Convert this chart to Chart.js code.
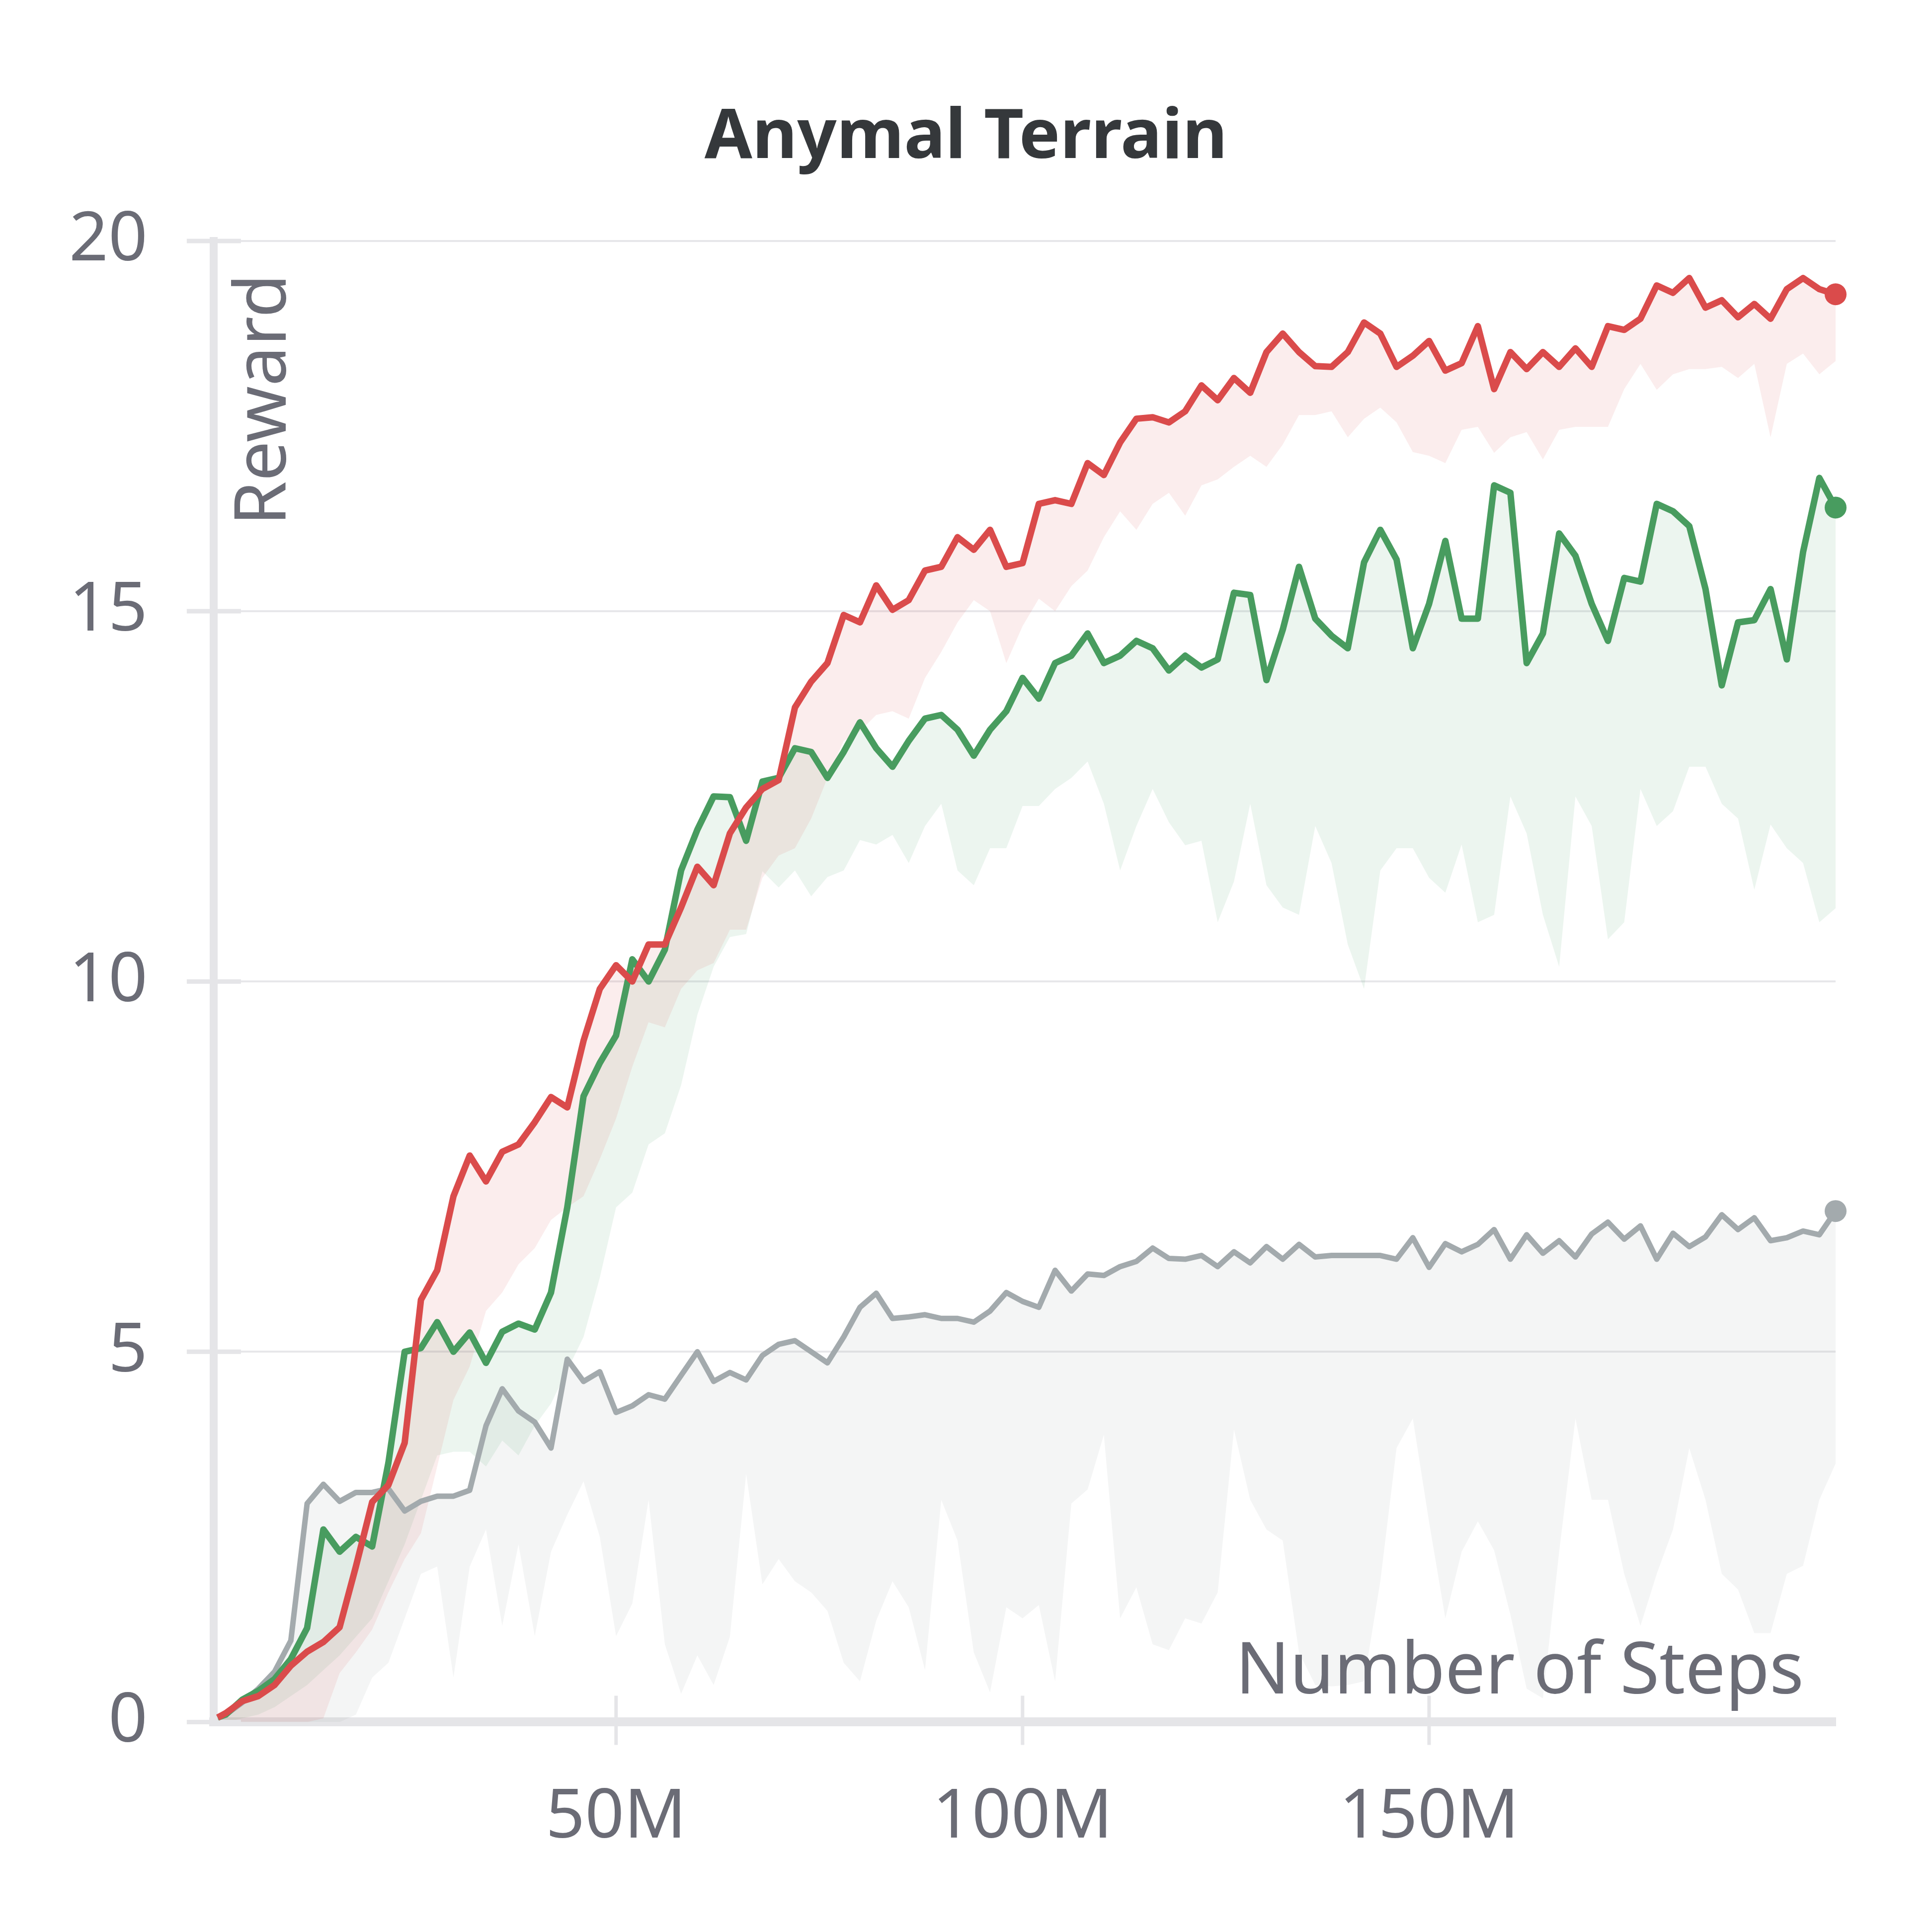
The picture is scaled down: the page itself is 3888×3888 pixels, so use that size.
<!DOCTYPE html>
<html>
<head>
<meta charset="utf-8">
<title>Anymal Terrain</title>
<script src="https://cdn.jsdelivr.net/npm/chart.js@4.4.1/dist/chart.umd.min.js"></script>
<style>
  html, body { margin: 0; padding: 0; background: #ffffff; }
  #chart { display: block; }
</style>
</head>
<body>
<canvas id="chart" width="3888" height="3888"></canvas>
<script>
// Number of steps, in millions
const steps = [1,
  2, 4, 6, 8, 10, 12, 14, 16, 18, 20,
  22, 24, 26, 28, 30, 32, 34, 36, 38, 40,
  42, 44, 46, 48, 50, 52, 54, 56, 58, 60,
  62, 64, 66, 68, 70, 72, 74, 76, 78, 80,
  82, 84, 86, 88, 90, 92, 94, 96, 98, 100,
  102, 104, 106, 108, 110, 112, 114, 116, 118, 120,
  122, 124, 126, 128, 130, 132, 134, 136, 138, 140,
  142, 144, 146, 148, 150, 152, 154, 156, 158, 160,
  162, 164, 166, 168, 170, 172, 174, 176, 178, 180,
  182, 184, 186, 188, 190, 192, 194, 196, 198, 200];

// red run: reward and lower edge of its band
const redRun = [0.06,
  0.12, 0.28, 0.35, 0.5, 0.76, 0.95, 1.08, 1.28, 2.1, 2.97,
  3.2, 3.77, 5.7, 6.1, 7.1, 7.65, 7.3, 7.7, 7.8, 8.1,
  8.44, 8.3, 9.2, 9.9, 10.22, 10.0, 10.5, 10.5, 11.0, 11.55,
  11.3, 12.0, 12.35, 12.6, 12.72, 13.7, 14.05, 14.3, 14.95, 14.85,
  15.35, 15.02, 15.15, 15.55, 15.6, 16.0, 15.83, 16.1, 15.6, 15.65,
  16.45, 16.5, 16.45, 17.0, 16.84, 17.28, 17.6, 17.62, 17.55, 17.7,
  18.05, 17.85, 18.15, 17.95, 18.5, 18.75, 18.5, 18.31, 18.3, 18.5,
  18.9, 18.75, 18.3, 18.45, 18.65, 18.25, 18.35, 18.85, 18.0, 18.5,
  18.27, 18.5, 18.3, 18.55, 18.3, 18.85, 18.8, 18.95, 19.4, 19.3,
  19.5, 19.1, 19.2, 18.97, 19.15, 18.95, 19.35, 19.5, 19.35, 19.28];
const redRunMin = [0,
  0, 0, 0, 0, 0, 0, 0.05, 0.66, 0.94, 1.25,
  1.75, 2.2, 2.55, 3.45, 4.35, 4.8, 5.55, 5.8, 6.18, 6.4,
  6.78, 6.95, 7.1, 7.6, 8.15, 8.85, 9.45, 9.38, 9.9, 10.15,
  10.25, 10.7, 10.7, 11.4, 11.7, 11.8, 12.2, 12.75, 13.25, 13.38,
  13.6, 13.65, 13.55, 14.1, 14.45, 14.85, 15.15, 15.0, 14.3, 14.8,
  15.17, 15.0, 15.34, 15.55, 16.0, 16.35, 16.1, 16.45, 16.6, 16.29,
  16.7, 16.78, 16.95, 17.1, 16.95, 17.25, 17.65, 17.65, 17.7, 17.35,
  17.6, 17.75, 17.55, 17.15, 17.1, 17.0, 17.45, 17.49, 17.14, 17.35,
  17.42, 17.05, 17.45, 17.49, 17.49, 17.49, 18.0, 18.34, 17.99, 18.2,
  18.27, 18.27, 18.3, 18.15, 18.34, 17.35, 18.34, 18.48, 18.2, 18.38];

// green run
const greenRun = [0.06,
  0.1, 0.3, 0.42, 0.58, 0.85, 1.27, 2.6, 2.3, 2.5, 2.37,
  3.5, 5.0, 5.05, 5.4, 5.0, 5.26, 4.85, 5.27, 5.38, 5.3,
  5.8, 6.95, 8.45, 8.9, 9.27, 10.3, 10.0, 10.43, 11.5, 12.05,
  12.5, 12.49, 11.9, 12.7, 12.75, 13.15, 13.1, 12.75, 13.1, 13.5,
  13.15, 12.9, 13.25, 13.55, 13.6, 13.4, 13.05, 13.4, 13.65, 14.1,
  13.82, 14.3, 14.4, 14.7, 14.3, 14.4, 14.6, 14.5, 14.2, 14.4,
  14.24, 14.35, 15.25, 15.22, 14.07, 14.75, 15.6, 14.9, 14.67, 14.5,
  15.66, 16.1, 15.7, 14.5, 15.1, 15.95, 14.9, 14.9, 16.7, 16.6,
  14.3, 14.7, 16.05, 15.75, 15.1, 14.6, 15.45, 15.4, 16.45, 16.35,
  16.15, 15.3, 14.0, 14.85, 14.88, 15.3, 14.35, 15.8, 16.8, 16.4];
const greenRunMin = [0,
  0, 0.05, 0.1, 0.2, 0.35, 0.5, 0.7, 0.9, 1.15, 1.4,
  1.9, 2.4, 3.0, 3.6, 3.65, 3.65, 3.45, 3.8, 3.6, 4.0,
  4.3, 4.75, 5.2, 6.0, 6.95, 7.15, 7.8, 7.95, 8.6, 9.55,
  10.2, 10.6, 10.64, 11.49, 11.27, 11.5, 11.15, 11.41, 11.5, 11.91,
  11.85, 11.98, 11.6, 12.1, 12.4, 11.5, 11.3, 11.8, 11.8, 12.37,
  12.37, 12.6, 12.75, 12.97, 12.4, 11.5, 12.1, 12.6, 12.15, 11.84,
  11.9, 10.8, 11.35, 12.4, 11.3, 11.0, 10.9, 12.1, 11.6, 10.5,
  9.9, 11.5, 11.8, 11.8, 11.4, 11.2, 11.85, 10.8, 10.9, 12.5,
  12.0, 10.9, 10.2, 12.5, 12.1, 10.57, 10.8, 12.6, 12.1, 12.3,
  12.9, 12.9, 12.4, 12.2, 11.24, 12.12, 11.8, 11.6, 10.8, 10.99];

// gray run
const grayRun = [0.06,
  0.1, 0.26, 0.45, 0.68, 1.1, 2.95, 3.21, 2.98, 3.1, 3.1,
  3.15, 2.85, 2.98, 3.05, 3.05, 3.13, 4.0, 4.5, 4.2, 4.05,
  3.7, 4.9, 4.6, 4.73, 4.18, 4.27, 4.42, 4.36, 4.68, 5.0,
  4.6, 4.72, 4.62, 4.95, 5.1, 5.15, 5.0, 4.85, 5.2, 5.6,
  5.79, 5.45, 5.47, 5.5, 5.45, 5.45, 5.4, 5.55, 5.8, 5.68,
  5.6, 6.1, 5.82, 6.05, 6.03, 6.15, 6.22, 6.4, 6.26, 6.25,
  6.3, 6.15, 6.35, 6.2, 6.42, 6.25, 6.45, 6.28, 6.3, 6.3,
  6.3, 6.3, 6.25, 6.54, 6.14, 6.46, 6.35, 6.45, 6.65, 6.25,
  6.58, 6.33, 6.5, 6.28, 6.59, 6.75, 6.52, 6.7, 6.25, 6.6,
  6.42, 6.55, 6.85, 6.65, 6.81, 6.5, 6.54, 6.63, 6.58, 6.9];
const grayRunMin = [0,
  0, 0, 0, 0, 0, 0, 0, 0, 0.1, 0.6,
  0.8, 1.4, 2.0, 2.1, 0.6, 2.1, 2.6, 1.3, 2.4, 1.16,
  2.3, 2.8, 3.25, 2.5, 1.16, 1.6, 3.0, 1.05, 0.38, 0.9,
  0.5, 1.15, 3.35, 1.86, 2.2, 1.9, 1.75, 1.5, 0.8, 0.55,
  1.37, 1.9, 1.55, 0.7, 3.0, 2.45, 0.94, 0.4, 1.55, 1.4,
  1.58, 0.55, 2.95, 3.14, 3.88, 1.4, 1.82, 1.05, 0.97, 1.4,
  1.33, 1.75, 3.95, 3.0, 2.6, 2.45, 0.94, 0.5, 0.48, 0.5,
  0.55, 1.9, 3.7, 4.1, 2.7, 1.4, 2.3, 2.71, 2.32, 1.45,
  0.45, 0.32, 2.3, 4.1, 3.0, 3.0, 2.0, 1.3, 2.0, 2.6,
  3.7, 3.0, 2.0, 1.79, 1.2, 1.2, 2.0, 2.11, 3.0, 3.49];

const xTicks = [50, 100, 150];
const yTicks = [0, 5, 10, 15, 20];

const fontFamily = '"Noto Sans", "Open Sans", sans-serif';
const textColor = '#6b6c76';
const axisColor = '#e5e5e8';

const toPoints = vals => vals.map((v, i) => ({ x: steps[i], y: v }));
const lastPointRadius = ctx => (ctx.dataIndex === steps.length - 1 ? 22 : 0);

function bandEdge(vals, order) {
  return {
    data: toPoints(vals),
    borderWidth: 0,
    borderColor: 'rgba(0,0,0,0)',
    pointRadius: 0,
    fill: false,
    order: order
  };
}

function runLine(vals, color, band, width, order) {
  return {
    data: toPoints(vals),
    borderColor: color,
    backgroundColor: band,
    borderWidth: width,
    borderJoinStyle: 'round',
    pointRadius: lastPointRadius,
    pointBackgroundColor: color,
    pointBorderWidth: 0,
    fill: '-1',
    clip: false,
    order: order
  };
}

// title, tick stubs crossing the axes, and the axis titles inside the plot
const axisDecor = {
  id: 'axisDecor',
  beforeDatasetsDraw(chart) {
    const { ctx, chartArea: area, scales: { x, y } } = chart;
    ctx.save();
    ctx.strokeStyle = axisColor;
    ctx.lineWidth = 9;
    ctx.beginPath();
    yTicks.forEach(v => {
      const py = y.getPixelForValue(v);
      ctx.moveTo(area.left - 54, py);
      ctx.lineTo(area.left + 55, py);
    });
    ctx.stroke();
    ctx.lineWidth = 7;
    ctx.beginPath();
    xTicks.forEach(v => {
      const px = x.getPixelForValue(v);
      ctx.moveTo(px, area.bottom - 53);
      ctx.lineTo(px, area.bottom + 46);
    });
    ctx.stroke();
    ctx.restore();
  },
  afterDraw(chart) {
    const { ctx, chartArea: area, width } = chart;
    ctx.save();
    ctx.fillStyle = '#35383b';
    ctx.font = 'bold 139px ' + fontFamily;
    ctx.textAlign = 'center';
    ctx.textBaseline = 'alphabetic';
    ctx.fillText('Anymal Terrain', width / 2, 318);

    ctx.fillStyle = textColor;
    ctx.font = '144px ' + fontFamily;
    ctx.textAlign = 'right';
    ctx.fillText('Number of Steps', area.right - 64, area.bottom - 57);
    ctx.translate(area.left + 145, area.top + 66);
    ctx.rotate(-Math.PI / 2);
    ctx.fillText('Reward', 0, 0);
    ctx.restore();
  }
};

const ctx = document.getElementById('chart').getContext('2d');

new Chart(ctx, {
  type: 'line',
  data: {
    datasets: [
      bandEdge(grayRunMin, 6),
      runLine(grayRun, '#a3aaad', 'rgba(163, 170, 173, 0.12)', 11, 5),
      bandEdge(greenRunMin, 4),
      runLine(greenRun, '#489c5f', 'rgba(72, 156, 95, 0.1)', 13, 3),
      bandEdge(redRunMin, 2),
      runLine(redRun, '#da4b4b', 'rgba(218, 75, 75, 0.1)', 13, 1)
    ]
  },
  options: {
    responsive: false,
    devicePixelRatio: 1,
    animation: false,
    events: [],
    layout: {
      padding: { top: 485, left: 6, right: 194, bottom: 37 }
    },
    elements: {
      line: { tension: 0 }
    },
    plugins: {
      legend: { display: false },
      tooltip: { enabled: false },
      title: { display: false },
      filler: { drawTime: 'beforeDatasetsDraw' }
    },
    scales: {
      x: {
        type: 'linear',
        min: 0.5,
        max: 200,
        afterBuildTicks: scale => { scale.ticks = xTicks.map(value => ({ value })); },
        grid: { display: false, drawTicks: false },
        border: { display: true, color: axisColor, width: 18 },
        ticks: {
          color: textColor,
          font: { family: fontFamily, size: 138 },
          padding: 110,
          maxRotation: 0,
          callback: value => value + 'M'
        }
      },
      y: {
        type: 'linear',
        min: 0,
        max: 20,
        afterBuildTicks: scale => { scale.ticks = yTicks.map(value => ({ value })); },
        grid: { color: '#e7e7ea', lineWidth: 4, drawTicks: false },
        border: { display: true, color: axisColor, width: 16 },
        ticks: {
          color: textColor,
          font: { family: fontFamily, size: 138 },
          padding: 133
        }
      }
    }
  },
  plugins: [axisDecor]
});
</script>
</body>
</html>
